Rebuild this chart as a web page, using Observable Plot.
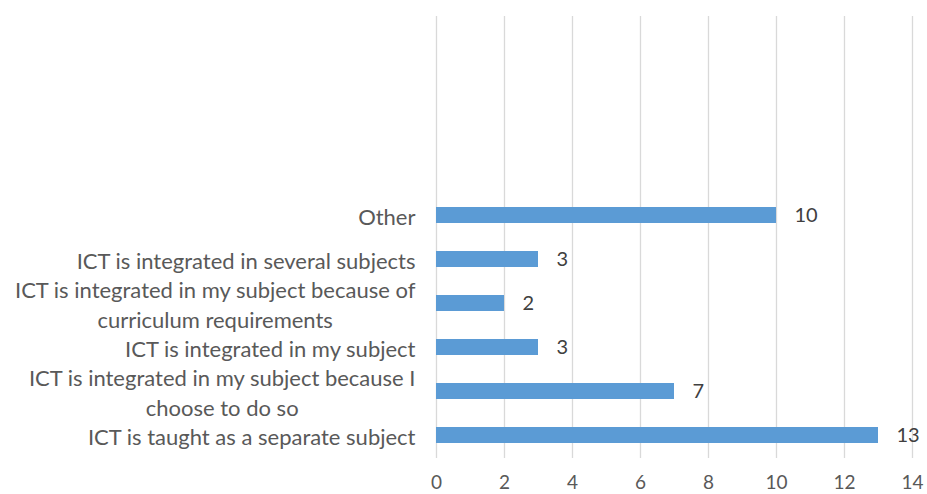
<!DOCTYPE html>
<html>
<head>
<meta charset="utf-8">
<script src="https://cdn.jsdelivr.net/npm/d3@7"></script>
<script src="https://cdn.jsdelivr.net/npm/@observablehq/plot@0.6"></script>
<style>
  html, body { margin: 0; padding: 0; background: white; }
</style>
</head>
<body>
<div id="chart"></div>
<script>
// Categories listed bottom to top (as in the reference)
const categories = [
  "ICT is taught as a separate subject",
  "ICT is integrated in my subject because I\nchoose to do so",
  "ICT is integrated in my subject",
  "ICT is integrated in my subject because of\ncurriculum requirements",
  "ICT is integrated in several subjects",
  "Other"
];
const values = [13, 7, 3, 2, 3, 10];
// Empty category slots shown above the bars in the reference
const emptySlots = ["__e1", "__e2", "__e3", "__e4"];
const xTicks = [0, 2, 4, 6, 8, 10, 12, 14];

const data = categories.map((c, i) => ({category: c, value: values[i]}));
const yDomain = [...emptySlots, ...categories.slice().reverse()];

const chart = Plot.plot({
  width: 927,
  height: 494,
  marginLeft: 436,
  marginRight: 15,
  marginTop: 16,
  marginBottom: 36,
  style: {fontFamily: "Lato, 'Open Sans', sans-serif", fontSize: "21px", color: "#595959", background: "white"},
  x: {domain: [0, 14]},
  y: {domain: yDomain, paddingInner: 0.64, paddingOuter: 0.32},
  marks: [
    Plot.gridX(xTicks, {stroke: "#d9d9d9", strokeOpacity: 1, strokeWidth: 1.3}),
    Plot.axisX({ticks: xTicks, tickSize: 0, tickPadding: 24, label: null, fill: "#595959", fontSize: 19, lineAnchor: "middle"}),
    Plot.axisY({tickSize: 0, tickPadding: 21, label: null, lineHeight: 1.38, fill: "#595959", fontSize: 22,
      tickFormat: d => emptySlots.includes(d) ? "" : d}),
    Plot.barX(data, {x: "value", y: "category", fill: "#5b9bd5"}),
    Plot.text(data, {x: "value", y: "category", text: d => String(d.value), textAnchor: "start", dx: 18, fill: "#404040", fontSize: 20})
  ]
});
document.getElementById("chart").appendChild(chart);

// Center multi-line category labels (as Excel does), keeping the block right-aligned
chart.querySelectorAll("g[aria-label='y-axis tick label'] text").forEach(t => {
  const spans = t.querySelectorAll("tspan");
  if (spans.length > 1) {
    const w = t.getBBox().width;
    t.setAttribute("text-anchor", "middle");
    spans.forEach(s => s.setAttribute("x", -w / 2));
  }
});
</script>
</body>
</html>
